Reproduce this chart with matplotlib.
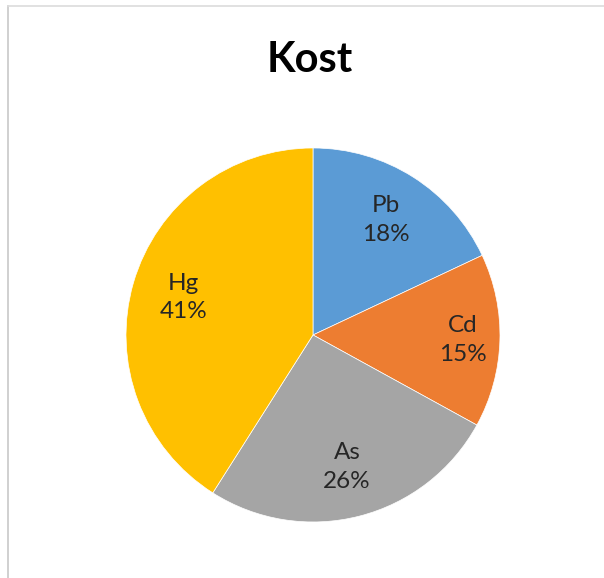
import numpy as np
import matplotlib.pyplot as plt
from matplotlib.lines import Line2D

# Chart data
metals = ["Pb", "Cd", "As", "Hg"]
shares = [18, 15, 26, 41]
colors = ["#5B9BD5", "#ED7D31", "#A5A5A5", "#FFC000"]
label_dist = [0.73, 0.80, 0.73, 0.72]

plt.rcParams["font.family"] = ["Lato", "DejaVu Sans"]

fig = plt.figure(figsize=(6.04, 5.78), dpi=100)
ax = fig.add_axes([0.2086, 0.0969, 0.6192, 0.6471])

wedges, _ = ax.pie(
    shares,
    colors=colors,
    startangle=90,
    counterclock=False,
    wedgeprops=dict(edgecolor="white", linewidth=0.5),
)

# Labels: name + percentage, centred inside each slice
for w, name, val, d in zip(wedges, metals, shares, label_dist):
    ang = np.deg2rad((w.theta1 + w.theta2) / 2)
    ax.text(
        d * np.cos(ang),
        d * np.sin(ang),
        f"{name}\n{val}%",
        ha="center",
        va="center",
        fontsize=17.5,
        color="#262626",
        linespacing=1.45,
    )

ax.set_aspect("equal")
ax.set_xlim(-1, 1)
ax.set_ylim(-1, 1)

# Title
fig.text(0.513, 1 - 72 / 578, "Kost", ha="center", va="baseline",
         fontsize=30, fontweight="bold", color="black")

# Light frame around the chart (top and left edges visible)
fig.add_artist(Line2D([8 / 604, 8 / 604], [0, 1 - 6 / 578],
                      transform=fig.transFigure, color="#c8c8c8", lw=1.2))
fig.add_artist(Line2D([8 / 604, 1], [1 - 6 / 578, 1 - 6 / 578],
                      transform=fig.transFigure, color="#dcdcdc", lw=1.2))

fig.savefig("out.png", dpi=100)
